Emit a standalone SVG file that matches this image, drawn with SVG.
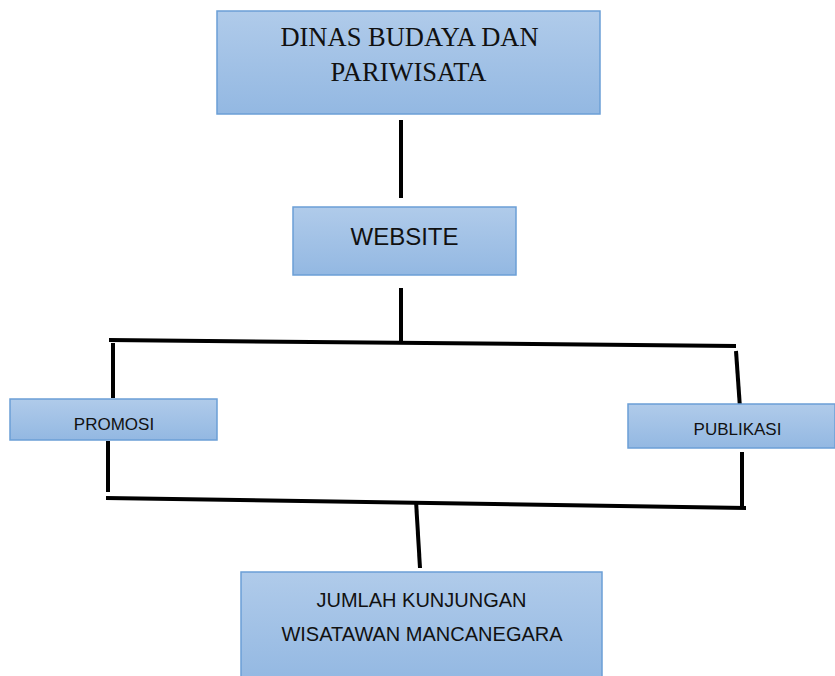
<svg xmlns="http://www.w3.org/2000/svg" width="835" height="676" viewBox="0 0 835 676">
<defs>
<linearGradient id="g" x1="0" y1="0" x2="0" y2="1">
<stop offset="0" stop-color="#b0cbea"/>
<stop offset="1" stop-color="#93b8e2"/>
</linearGradient>
<style>
.box{fill:url(#g);stroke:#6b9fd6;stroke-width:1.5}
.ln{stroke:#000;stroke-width:4;fill:none;stroke-linecap:butt}
.serif{font-family:"Liberation Serif","Times New Roman",serif;fill:#111}
.sans{font-family:"Liberation Sans",Arial,sans-serif;fill:#111}
</style>
</defs>
<rect width="835" height="676" fill="#fff"/>
<g id="connectors">
<line class="ln" x1="401" y1="120" x2="401" y2="198"/>
<line class="ln" x1="401" y1="288" x2="401" y2="342"/>
<line class="ln" x1="109" y1="340" x2="736" y2="346"/>
<line class="ln" x1="113" y1="343" x2="113" y2="398"/>
<line class="ln" x1="736" y1="351" x2="740" y2="408"/>
<line class="ln" x1="108" y1="441" x2="108" y2="492"/>
<line class="ln" x1="106" y1="498" x2="746" y2="508"/>
<line class="ln" x1="742" y1="452" x2="742" y2="508"/>
<line class="ln" x1="416" y1="501" x2="420" y2="568"/>
</g>
<g id="dinas">
<rect class="box" x="217" y="11" width="383" height="103"/>
<text class="serif" font-size="26.5" x="409.5" y="46" text-anchor="middle">DINAS BUDAYA DAN</text>
<text class="serif" font-size="26.5" x="408.5" y="81" text-anchor="middle">PARIWISATA</text>
</g>
<g id="website">
<rect class="box" x="293" y="207" width="223" height="68"/>
<text class="sans" font-size="24" x="404.5" y="245" text-anchor="middle">WEBSITE</text>
</g>
<g id="promosi">
<rect class="box" x="10" y="399" width="207" height="41"/>
<text class="sans" font-size="17" x="114" y="430" text-anchor="middle">PROMOSI</text>
</g>
<g id="publikasi">
<rect class="box" x="628" y="404" width="207" height="44"/>
<text class="sans" font-size="17" x="737.5" y="435" text-anchor="middle">PUBLIKASI</text>
</g>
<g id="jumlah">
<rect class="box" x="241" y="572" width="361" height="110"/>
<text class="sans" font-size="20" x="421.5" y="607" text-anchor="middle">JUMLAH KUNJUNGAN</text>
<text class="sans" font-size="20" x="422" y="641" text-anchor="middle">WISATAWAN MANCANEGARA</text>
</g>
</svg>
